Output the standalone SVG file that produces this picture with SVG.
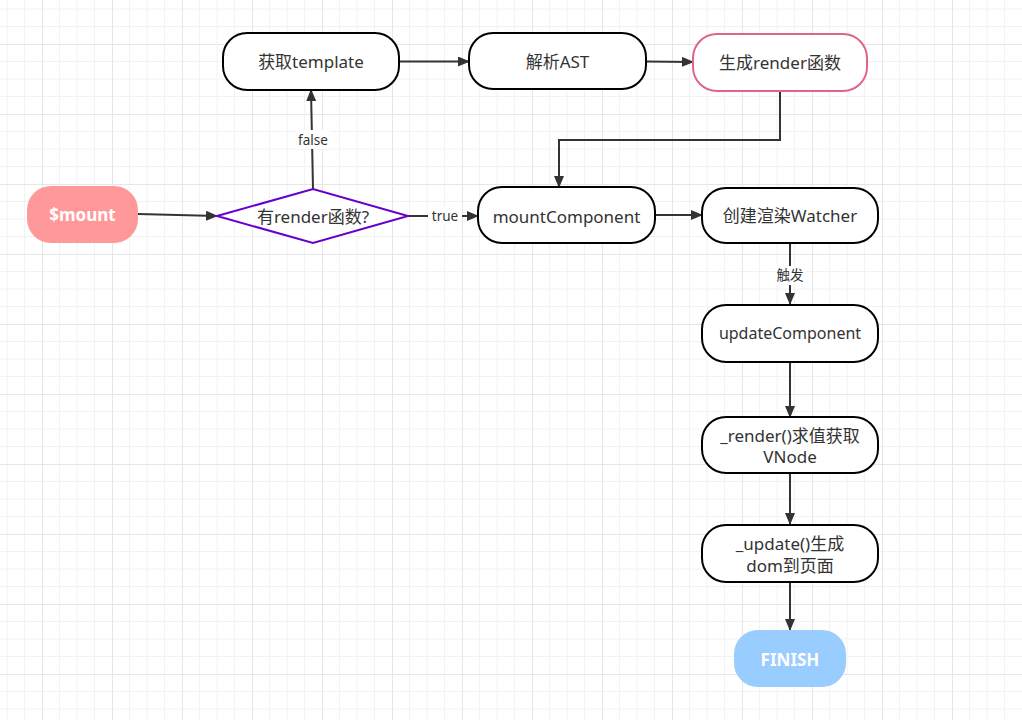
<svg xmlns="http://www.w3.org/2000/svg" width="1022" height="720" viewBox="0 0 1022 720">
<defs>
<pattern id="grid" patternUnits="userSpaceOnUse" x="42" y="44" width="70" height="70">
<path d="M17.5 0V70M35 0V70M52.5 0V70M0 17.5H70M0 35H70M0 52.5H70" stroke="#f2f2f2" stroke-width="1" fill="none"/>
<path d="M0.5 0V70M0 0.5H70" stroke="#e6e6e6" stroke-width="1" fill="none"/>
</pattern>
<marker id="arr" markerWidth="12" markerHeight="10" refX="11" refY="5" orient="auto" markerUnits="userSpaceOnUse">
<path d="M0 0L12 5L0 10Z" fill="#333"/>
</marker>
</defs>
<style>
.n{fill:#fff;stroke:#000;stroke-width:2}
.t{font-family:"Noto Sans","Noto Sans CJK SC",sans-serif;font-size:17px;fill:#333;text-anchor:middle;dominant-baseline:central}
.w{font-family:"Noto Sans","Noto Sans CJK SC",sans-serif;font-size:17px;font-weight:bold;fill:#fff;text-anchor:middle;dominant-baseline:central}
.l{font-family:"Noto Sans","Noto Sans CJK SC",sans-serif;font-size:13.5px;fill:#333;text-anchor:middle;dominant-baseline:central}
.c{fill:none;stroke:#333;stroke-width:2;marker-end:url(#arr)}
</style>
<rect width="1022" height="720" fill="#fff"/>
<rect width="1022" height="720" fill="url(#grid)"/>

<g id="connectors">
<path class="c" d="M138 214L217 216"/>
<path class="c" d="M313 189L311 90"/>
<path class="c" d="M399 61.5L469 61.5"/>
<path class="c" d="M646 61.5L693 62"/>
<path class="c" d="M780 91V140H559V187"/>
<path class="c" d="M408 216L478 216"/>
<path class="c" d="M655 215L702 215"/>
<path class="c" d="M790 243V304"/>
<path class="c" d="M790 362V417"/>
<path class="c" d="M790 473V524"/>
<path class="c" d="M790 582V630"/>
<rect x="296" y="130" width="34" height="19" fill="#fff"/>
<text class="l" x="313" y="139.5">false</text>
<rect x="428" y="207" width="34" height="18" fill="#fff"/>
<text class="l" x="445" y="216">true</text>
<rect x="775" y="266" width="30" height="19" fill="#fff"/>
<text class="l" x="790" y="275">触发</text>
</g>

<g id="mount">
<rect x="27" y="186" width="111" height="57" rx="24" fill="#FF9999"/>
<text class="w" x="82.5" y="214.5">$mount</text>
</g>
<g id="hasRender">
<path d="M217 216L313 189L408 216L313 243Z" fill="#fff" stroke="#6600CC" stroke-width="2"/>
<text class="t" x="313" y="216">有render函数?</text>
</g>
<g id="getTemplate">
<rect class="n" x="223" y="33" width="176" height="57" rx="24"/>
<text class="t" x="311" y="61.5">获取template</text>
</g>
<g id="parseAST">
<rect class="n" x="469" y="33" width="177" height="56" rx="24"/>
<text class="t" x="557.5" y="61">解析AST</text>
</g>
<g id="genRender">
<rect x="693" y="34" width="174" height="57" rx="24" fill="#fff" stroke="#E06685" stroke-width="2"/>
<text class="t" x="780" y="62.5">生成render函数</text>
</g>
<g id="mountComponent">
<rect class="n" x="478" y="187" width="177" height="56" rx="24"/>
<text class="t" x="566.5" y="216">mountComponent</text>
</g>
<g id="watcher">
<rect class="n" x="702" y="188" width="176" height="55" rx="24"/>
<text class="t" x="790" y="215">创建渲染Watcher</text>
</g>
<g id="updateComponent">
<rect class="n" x="702" y="305" width="176" height="57" rx="24"/>
<text class="t" x="790" y="333" style="font-size:16px">updateComponent</text>
</g>
<g id="render">
<rect class="n" x="702" y="417" width="176" height="56" rx="24"/>
<text class="t" x="790" y="435">_render()求值获取</text>
<text class="t" x="790" y="456">VNode</text>
</g>
<g id="update">
<rect class="n" x="702" y="525" width="176" height="57" rx="24"/>
<text class="t" x="790" y="543">_update()生成</text>
<text class="t" x="790" y="565">dom到页面</text>
</g>
<g id="finish">
<rect x="734" y="630" width="112" height="57" rx="24" fill="#99CCFF"/>
<text class="w" x="790" y="659">FINISH</text>
</g>
</svg>
